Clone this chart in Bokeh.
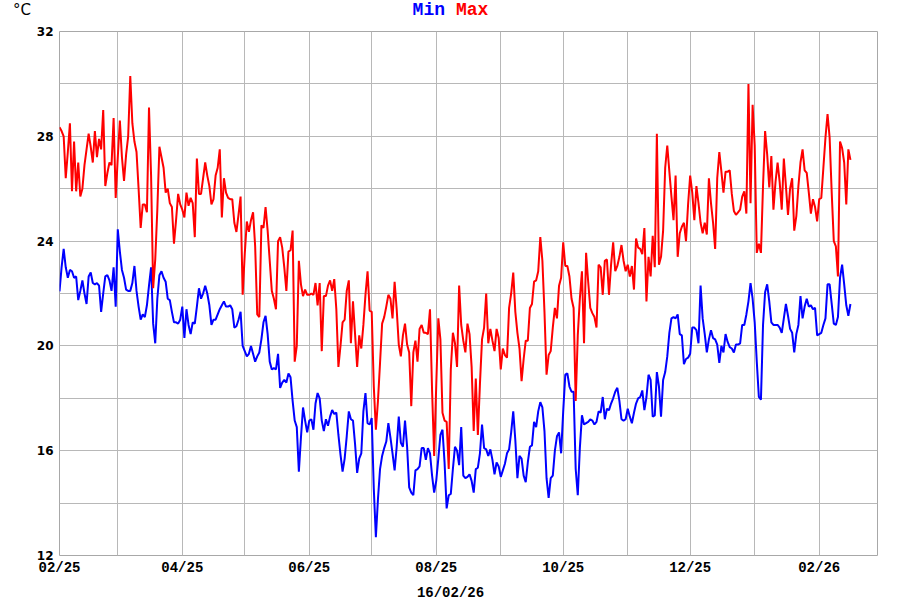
import pandas as pd
from bokeh.plotting import figure
from bokeh.models import FixedTicker, DatetimeTickFormatter, Label, Range1d
from bokeh.embed import file_html
from bokeh.resources import INLINE

# ---------------- data (daily values) ----------------
start_date = "2025-02-01"
axis_start = "2025-02-01"
axis_end = "2026-03-01"
generated_label = "16/02/26"

max_temp = [
    28.35, 28.2, 28.0, 26.4, 27.4, 28.5, 25.9, 27.8, 25.9, 27.0,
    25.7, 26.0, 26.9, 27.5, 28.1, 27.6, 27.0, 28.2, 27.2, 27.9,
    27.5, 29.0, 26.1, 26.6, 27.0, 26.9, 28.7, 25.65, 27.2, 28.6,
    27.2, 26.3, 27.3, 28.0, 30.3, 28.5, 27.8, 27.4, 26.0, 24.5,
    25.4, 25.4, 25.1, 29.1, 26.5, 22.2, 23.3, 25.2, 27.6, 27.2,
    26.8, 25.85, 26.0, 25.45, 25.3, 23.9, 24.8, 25.8, 25.4, 25.2,
    24.9, 25.85, 25.35, 25.65, 25.45, 24.15, 27.15, 25.8, 25.8, 26.4,
    27.0, 26.5, 26.1, 25.4, 25.6, 26.5, 26.8, 27.5, 24.9, 26.4,
    25.85, 25.65, 25.6, 25.6, 24.7, 24.35, 25.0, 25.7, 21.95, 23.5,
    24.75, 24.35, 24.8, 25.1, 23.8, 21.2, 21.1, 24.6, 24.5, 25.3,
    24.4, 23.25, 22.1, 21.8, 21.4, 24.0, 24.15, 23.75, 23.0, 22.1,
    23.6, 23.65, 24.4, 19.4, 20.0, 23.25, 22.35, 21.9, 22.15, 21.95,
    21.95, 22.0, 21.95, 22.4, 21.55, 22.4, 19.8, 21.9, 21.9, 22.3,
    22.5, 22.1, 22.55, 21.4, 19.2, 20.0, 20.9, 21.0, 22.1, 22.5,
    20.1, 21.7, 20.45, 19.2, 20.4, 19.9, 20.8, 21.95, 22.85, 21.35,
    21.3, 18.45, 16.8, 17.9, 19.35, 20.85, 21.1, 21.5, 21.95, 21.8,
    21.05, 22.45, 21.4, 20.05, 19.6, 20.4, 20.85, 20.05, 19.75, 17.7,
    19.75, 20.2, 19.4, 20.65, 20.8, 20.5, 20.5, 20.45, 21.4, 18.3,
    15.8, 18.5, 21.05, 20.25, 17.45, 17.15, 17.1, 15.3, 19.1, 20.5,
    20.1, 19.2, 22.3, 20.8, 20.2, 19.75, 20.85, 20.45, 19.2, 16.75,
    18.75, 16.6, 18.55, 20.25, 20.7, 22.0, 20.1, 20.65, 20.2, 19.8,
    20.65, 20.3, 19.1, 19.9, 19.65, 19.55, 21.45, 22.0, 22.8, 21.3,
    20.5, 19.9, 18.65, 19.5, 20.2, 20.2, 21.45, 21.6, 22.45, 22.5,
    22.85, 24.15, 23.25, 21.3, 18.9, 19.65, 19.8, 20.7, 21.45, 21.05,
    22.3, 22.6, 23.95, 23.05, 23.05, 22.65, 21.8, 21.45, 17.9, 20.4,
    21.8, 22.85, 20.1, 23.55, 22.45, 21.45, 21.25, 21.1, 20.7, 23.1,
    23.0, 21.95, 23.25, 23.3, 21.95, 23.1, 23.95, 22.85, 23.05, 23.4,
    23.85, 23.25, 22.85, 23.1, 22.65, 23.05, 22.15, 24.1, 23.75, 23.7,
    23.5, 24.5, 21.7, 23.4, 22.65, 24.2, 23.0, 28.1, 23.1, 23.4,
    24.4, 26.8, 27.65, 26.65, 25.7, 24.8, 26.5, 23.4, 24.3, 24.55,
    24.7, 24.0, 25.4, 26.5, 25.85, 24.8, 26.1, 25.45, 24.7, 24.3,
    24.7, 24.25, 26.4, 25.45, 24.7, 23.7, 26.4, 27.4, 26.65, 25.85,
    26.65, 26.65, 26.7, 25.8, 25.15, 25.0, 25.1, 25.2, 25.7, 25.9,
    25.05, 30.0, 25.45, 29.2, 27.65, 23.55, 23.9, 23.55, 26.1, 28.2,
    27.3, 26.05, 27.25, 25.2, 26.25, 27.0, 26.25, 25.2, 27.15, 26.1,
    25.0, 26.0, 26.4, 24.4, 24.95, 26.1, 27.0, 27.5, 26.7, 26.6,
    25.85, 25.05, 25.6, 25.3, 24.75, 25.6, 25.65, 26.8, 27.95, 28.85,
    27.95, 25.85, 24.0, 23.8, 22.65, 27.8, 27.55, 27.0, 25.4, 27.5, 27.1,
]

min_temp = [
    22.08, 23.0, 23.7, 23.0, 22.6, 22.9, 22.85, 22.6, 22.65, 21.75,
    22.1, 22.5, 22.0, 21.6, 22.65, 22.8, 22.4, 22.35, 22.4, 22.3,
    21.3, 22.0, 22.65, 22.7, 22.5, 22.1, 23.0, 21.5, 24.45, 23.6,
    22.9, 22.6, 22.15, 22.1, 22.1, 22.4, 23.05, 22.1, 21.5, 21.0,
    21.2, 21.1, 21.55, 22.3, 23.0, 20.85, 20.1, 21.8, 22.7, 22.85,
    22.6, 22.45, 21.8, 21.75, 21.3, 20.9, 20.9, 20.85, 21.0, 21.5,
    20.3, 21.4, 20.8, 20.45, 20.9, 20.85, 21.5, 22.2, 21.8, 22.0,
    22.3, 22.0, 21.55, 20.8, 21.0, 21.0, 21.2, 21.4, 21.55, 21.7,
    21.5, 21.5, 21.55, 21.4, 20.7, 20.75, 21.0, 21.3, 20.0, 19.8,
    19.6, 19.7, 20.0, 19.7, 19.4, 19.6, 19.75, 20.25, 20.9, 21.15,
    20.45, 19.4, 19.1, 19.15, 19.1, 19.7, 18.4, 18.6, 18.7, 18.6,
    18.95, 18.8, 17.9, 17.15, 16.9, 15.2, 16.5, 17.65, 17.15, 16.7,
    17.15, 17.2, 16.8, 17.8, 18.2, 18.0, 17.15, 16.75, 17.2, 16.95,
    17.3, 17.55, 17.4, 17.45, 16.6, 15.85, 15.2, 15.7, 16.55, 17.5,
    17.2, 17.15, 16.25, 15.15, 15.7, 15.9, 17.5, 18.2, 17.05, 17.0,
    17.25, 14.55, 12.7, 14.15, 15.3, 15.8, 16.1, 16.35, 17.05, 16.5,
    15.9, 15.25, 16.15, 17.3, 16.3, 16.15, 17.15, 16.15, 14.6, 14.4,
    14.3, 15.25, 15.3, 15.4, 16.1, 16.1, 15.65, 16.1, 15.9, 15.05,
    14.4, 14.85, 15.7, 16.6, 16.8, 15.55, 13.8, 14.3, 14.35, 15.3,
    16.15, 16.0, 15.45, 16.9, 15.05, 14.95, 15.0, 15.1, 14.85, 14.4,
    15.3, 15.35, 15.9, 17.0, 16.1, 16.05, 15.8, 16.05, 15.65, 15.1,
    15.55, 15.4, 15.0, 15.25, 15.5, 15.9, 16.05, 16.7, 17.5, 16.4,
    14.95, 15.8, 15.7, 15.05, 14.8, 15.55, 16.15, 16.2, 17.1, 16.9,
    17.5, 17.85, 17.65, 16.75, 14.95, 14.2, 14.95, 15.05, 16.0, 16.55,
    16.7, 15.9, 17.5, 18.9, 18.95, 18.45, 18.25, 18.25, 15.3, 14.3,
    16.1, 17.35, 17.0, 17.05, 17.1, 17.2, 17.15, 17.0, 17.1, 17.5,
    17.45, 18.05, 17.2, 17.6, 17.55, 17.8, 18.0, 18.25, 18.4, 17.9,
    17.2, 17.15, 17.2, 17.6, 17.3, 17.05, 17.45, 17.8, 18.0, 18.05,
    18.3, 17.55, 18.05, 18.9, 18.7, 17.3, 17.35, 19.0, 18.45, 17.3,
    18.7, 19.0, 19.6, 20.5, 21.05, 21.1, 21.05, 21.2, 20.45, 20.4,
    19.3, 19.5, 19.55, 19.7, 20.7, 20.7, 20.6, 20.1, 22.3, 21.05,
    20.45, 19.75, 20.25, 20.6, 20.3, 20.25, 20.05, 19.35, 20.0, 19.75,
    20.45, 20.15, 19.95, 19.9, 19.75, 20.05, 20.05, 20.1, 20.8, 20.8,
    21.2, 21.7, 22.4, 21.8, 20.9, 19.4, 18.05, 17.95, 20.8, 22.05,
    22.35, 21.7, 20.9, 20.8, 20.8, 20.8, 20.7, 20.5, 21.05, 21.6,
    21.15, 20.65, 20.5, 19.75, 20.45, 20.8, 21.9, 21.05, 21.5, 21.8,
    21.5, 21.55, 21.4, 21.45, 20.4, 20.45, 20.5, 20.8, 21.05, 22.35,
    22.35, 21.6, 20.85, 20.8, 21.1, 22.6, 23.1, 22.35, 21.55, 21.15, 21.6,
]

y_grid_ticks = [12, 14, 16, 18, 20, 22, 24, 26, 28, 30, 32]
y_label_ticks = [12, 16, 20, 24, 28, 32]

# ---------------- derived dates ----------------
dates_max = pd.date_range(start_date, periods=len(max_temp), freq="D")
dates_min = pd.date_range(start_date, periods=len(min_temp), freq="D")
month_starts = pd.date_range(axis_start, axis_end, freq="MS")
month_ms = [t.timestamp() * 1000.0 for t in month_starts]
label_ms = month_ms[::2]

X0, X1 = month_ms[0], month_ms[-1]
Y0, Y1 = 12, 32
FRAME_L, FRAME_R, FRAME_T, FRAME_B = 59, 877, 31, 555


def sx_to_data(px):
    return X0 + (px - FRAME_L) / (FRAME_R - FRAME_L) * (X1 - X0)


def sy_to_data(py):
    return Y0 + (FRAME_B - py) / (FRAME_B - FRAME_T) * (Y1 - Y0)


# ---------------- figure ----------------
p = figure(
    width=900, height=600,
    x_axis_type="datetime",
    x_range=Range1d(X0, X1),
    y_range=Range1d(Y0, Y1),
    output_backend="svg", toolbar_location=None,
    min_border_left=FRAME_L, min_border_right=900 - FRAME_R,
    min_border_top=FRAME_T, min_border_bottom=600 - FRAME_B,
)
p.background_fill_color = "white"
p.border_fill_color = "white"
p.outline_line_color = "#a8a8a8"
p.outline_line_width = 1

p.line(dates_min, min_temp, line_color="#0000ff", line_width=2)
p.line(dates_max, max_temp, line_color="#ff0000", line_width=2)

# grids
p.xgrid.ticker = FixedTicker(ticks=month_ms)
p.ygrid.ticker = FixedTicker(ticks=y_grid_ticks)
for g in (p.xgrid, p.ygrid):
    g.grid_line_color = "#b8b8b8"
    g.grid_line_width = 1

# axes
p.xaxis.ticker = FixedTicker(ticks=label_ms)
fmt = "%m/%y"
p.xaxis.formatter = DatetimeTickFormatter(
    microseconds=fmt, milliseconds=fmt, seconds=fmt, minsec=fmt, minutes=fmt,
    hourmin=fmt, hours=fmt, days=fmt, months=fmt, years=fmt,
)
p.yaxis.ticker = FixedTicker(ticks=y_label_ticks)
for ax in (p.xaxis, p.yaxis):
    ax.axis_line_color = None
    ax.major_tick_line_color = None
    ax.minor_tick_line_color = None
    ax.major_tick_out = 0
    ax.major_tick_in = 0
    ax.major_label_text_color = "black"
    ax.major_label_text_font_style = "bold"
p.xaxis.major_label_text_font = "Liberation Mono"
p.xaxis.major_label_text_font_size = "14px"
p.xaxis.major_label_standoff = 4
p.yaxis.major_label_text_font = "DejaVu Sans"
p.yaxis.major_label_text_font_size = "12px"
p.yaxis.major_label_standoff = 6

# Texts outside the frame: each Label sits in a different side panel (so it is
# not clipped and the panels keep their sizes); positions are in data units.
p.add_layout(Label(x=sx_to_data(444.5), y=sy_to_data(9), text="Min",
                   text_align="right", text_baseline="middle", text_color="#0000ff",
                   text_font="Liberation Mono", text_font_style="bold", text_font_size="18px"), "above")
p.add_layout(Label(x=sx_to_data(455.5), y=sy_to_data(9), text="Max",
                   text_align="left", text_baseline="middle", text_color="#ff0000",
                   text_font="Liberation Mono", text_font_style="bold", text_font_size="18px"), "left")
p.add_layout(Label(x=sx_to_data(12.5), y=sy_to_data(9), text="°C",
                   text_align="left", text_baseline="middle", text_color="black",
                   text_font="DejaVu Sans", text_font_size="15px"), "right")
p.add_layout(Label(x=sx_to_data(450), y=sy_to_data(592), text=generated_label,
                   text_align="center", text_baseline="middle", text_color="black",
                   text_font="Liberation Mono", text_font_style="bold", text_font_size="14px"), "below")

open("out.html", "w").write(file_html(p, INLINE))
